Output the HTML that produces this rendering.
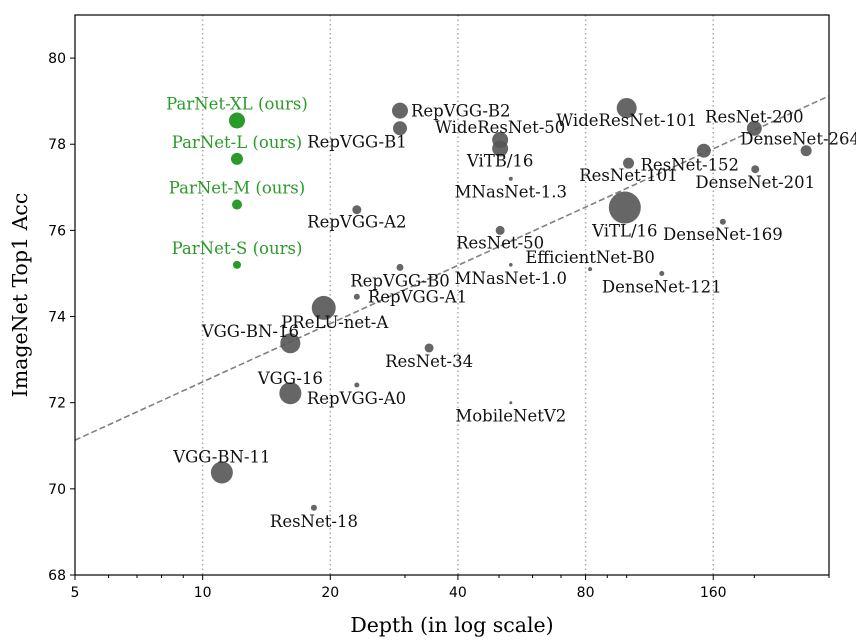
<!DOCTYPE html>
<html><head><meta charset="utf-8"><style>
html,body{margin:0;padding:0;background:#fff;}
svg{display:block;}
.lbl{font-family:"DejaVu Serif","Liberation Serif",serif;font-size:16.5px;}
.tick{font-family:"DejaVu Sans","Liberation Sans",sans-serif;font-size:14px;fill:#000;}
</style></head><body>
<svg id="chart" width="856" height="644" viewBox="0 0 856 644" xmlns="http://www.w3.org/2000/svg"></svg>
<script>
const names=["RepVGG-B2","RepVGG-B1","RepVGG-A2","RepVGG-B0","RepVGG-A1","RepVGG-A0","WideResNet-50","ViTB/16","WideResNet-101","ResNet-200","DenseNet-264","ResNet-152","ResNet-101","DenseNet-201","MNasNet-1.3","ViTL/16","DenseNet-169","ResNet-50","MNasNet-1.0","EfficientNet-B0","DenseNet-121","PReLU-net-A","VGG-BN-16","VGG-16","ResNet-34","MobileNetV2","VGG-BN-11","ResNet-18"];
const depths=[29.2,29.2,23.1,29.2,23.1,23.1,50.3,50.3,100,200,265,152,101,201,53.3,99,168.6,50.3,53.3,82,121,19.3,16.1,16.1,34.2,53.3,11.1,18.3];
const accs=[78.78,78.37,76.48,75.14,74.46,72.41,78.1,77.9,78.84,78.37,77.85,77.85,77.56,77.42,77.2,76.53,76.2,76.0,75.2,75.1,75.0,74.2,73.38,72.22,73.27,72.0,70.38,69.56];
const sizes=[8,7,4.5,3.5,3,2.5,8,8,10,7.5,5.5,7,5.5,4,2,16,3,4.5,1.8,2,2.5,12,10,11,4.5,1.5,11,3];
const parNames=["ParNet-XL (ours)","ParNet-L (ours)","ParNet-M (ours)","ParNet-S (ours)"];
const parDepths=[12.05,12.05,12.05,12.05];
const parAccs=[78.55,77.66,76.6,75.2];
const parSizes=[8,6,5,4];
const trend=[5,71.13,300,79.12];
const xTicks=[5,10,20,40,80,160];
const xMinor=[6,7,8,9,30,50,60,70,90,100,200,300];
const yTicks=[68,70,72,74,76,78,80];
const offs=[[11,6,"start"],[-43,19,"middle"],[0,18,"middle"],[0,19,"middle"],[11,6,"start"],[-50,19,"start"],[0,-7,"middle"],[0,18,"middle"],[0,18,"middle"],[0,-6,"middle"],[-6,-6,"middle"],[-14,20,"middle"],[0,18,"middle"],[0,19,"middle"],[0,19,"middle"],[0,29,"middle"],[0,18,"middle"],[0,18,"middle"],[0,19,"middle"],[0,-6,"middle"],[0,19,"middle"],[11,20,"middle"],[-40,-6,"middle"],[0,-9,"middle"],[0,19,"middle"],[0,19,"middle"],[0,-10,"middle"],[0,19,"middle"]];
const L=75,R=829,T=15,B=575,xmin=5,xmax=300,ymin=68,ymax=81;
const X=d=>L+(Math.log(d)-Math.log(xmin))/(Math.log(xmax)-Math.log(xmin))*(R-L);
const Y=a=>B-(a-ymin)/(ymax-ymin)*(B-T);
const svg=document.getElementById('chart');
const NS="http://www.w3.org/2000/svg";
function mk(t,a,p){const e=document.createElementNS(NS,t);for(const k in a)e.setAttribute(k,a[k]);(p||svg).appendChild(e);return e;}
xTicks.slice(1).forEach(t=>{const g=mk('line',{x1:X(t),x2:X(t),y1:T,y2:B,stroke:'#aaa','stroke-width':1.5,'stroke-dasharray':'1.5,3'});

});
const tl=mk('line',{x1:X(trend[0]),y1:Y(trend[1]),x2:X(trend[2]),y2:Y(trend[3]),stroke:'#808080','stroke-width':1.6,'stroke-dasharray':'6,3'});


names.forEach((n,i)=>{
const c=mk('circle',{cx:X(depths[i]),cy:Y(accs[i]),r:sizes[i],fill:'#555','fill-opacity':0.9});


const o=offs[i];
const t=mk('text',{x:X(depths[i])+o[0],y:Y(accs[i])+o[1],'text-anchor':o[2],class:'lbl',fill:'#111'});
t.textContent=n;


});
parNames.forEach((n,i)=>{
const c=mk('circle',{cx:X(parDepths[i]),cy:Y(parAccs[i]),r:parSizes[i],fill:'#2a9a2a'});


const t=mk('text',{x:X(parDepths[i]),y:Y(parAccs[i])-11,'text-anchor':'middle',class:'lbl',fill:'#2a9a2a'});
t.textContent=n;


});
const fr=mk('rect',{x:L,y:T,width:R-L,height:B-T,fill:'none',stroke:'#000','stroke-width':1.2});


xTicks.forEach(t=>{mk('line',{x1:X(t),x2:X(t),y1:B,y2:B+5,stroke:'#000'});
const tx=mk('text',{x:X(t),y:B+22,'text-anchor':'middle',class:'tick'});tx.textContent=t;

});
xMinor.forEach(t=>{if(t<=xmax)mk('line',{x1:X(t),x2:X(t),y1:B,y2:B+3,stroke:'#000'});});
yTicks.forEach(t=>{mk('line',{x1:L-5,x2:L,y1:Y(t),y2:Y(t),stroke:'#000'});
const tx=mk('text',{x:L-9,y:Y(t)+5,'text-anchor':'end',class:'tick'});tx.textContent=t;

});
const xt=mk('text',{x:452,y:632,'text-anchor':'middle',class:'lbl'});xt.textContent="Depth (in log scale)";xt.style.fontSize='20.5px';


const yt=mk('text',{x:0,y:0,'text-anchor':'middle',class:'lbl',transform:`translate(27,${(T+B)/2}) rotate(-90)`});yt.textContent="ImageNet Top1 Acc";yt.style.fontSize='20.5px';


</script>
</body></html>
